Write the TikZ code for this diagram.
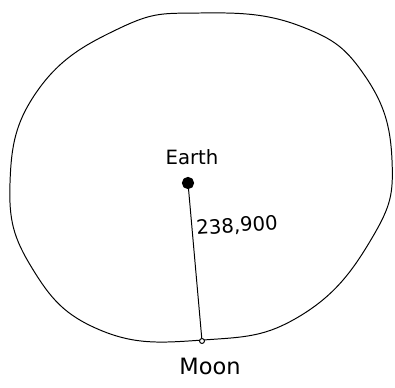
\documentclass[tikz,border=0pt]{standalone}
\usepackage{fontspec}
\setmainfont{DejaVu Sans}
\begin{document}
\begin{tikzpicture}[x=0.025cm,y=-0.025cm,font=\fontsize{14}{16}\selectfont,line width=0.7pt]
  \tikzset{
    body/.style={circle,draw,fill=black,inner sep=0pt,minimum size=8pt},
    moonpt/.style={circle,draw,fill=white,inner sep=0pt,minimum size=3.5pt},
    hand/.style={inner sep=1pt}
  }
  \useasboundingbox (0,0) rectangle (395,388);
  % orbit
  \draw plot[smooth cycle,tension=0.75] coordinates {
    (200,13) (300,26) (365,76) (392,160) (372,238) (300,316) (203,340)
    (100,330) (32,268) (10,183) (38,90) (120,28)};
  \node[body] (earth) at (188,183) {};
  \node[moonpt] (moon) at (202,341) {};
  \draw (earth) -- (moon);
  \node[hand] (earthlbl) at (192,157) {Earth};
  \node[hand,rotate=4] (dist) at (237,226) {238,900};
  \node[hand,font=\fontsize{16}{18}\selectfont] (moonlbl) at (210,366) {Moon};
\end{tikzpicture}
\end{document}
